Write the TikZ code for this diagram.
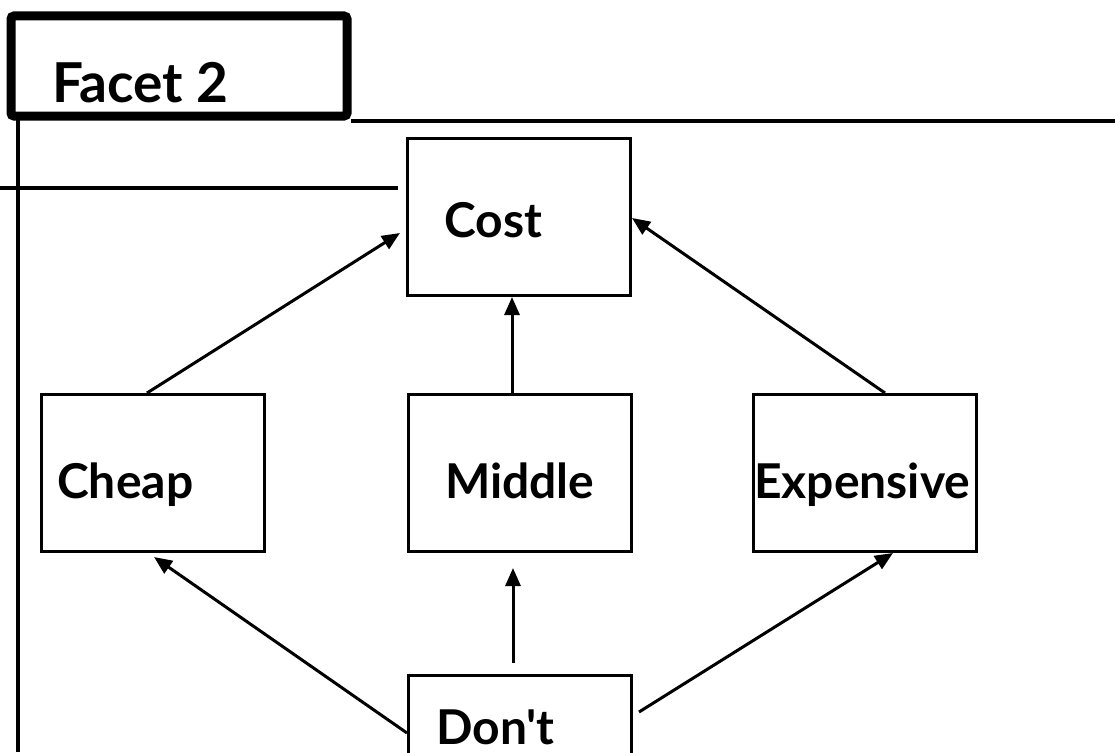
\documentclass[tikz,border=0pt]{standalone}
\usepackage{fontspec}
\newfontfamily\latofam{Lato}[BoldFont={* Bold}]
\usetikzlibrary{arrows.meta}
\begin{document}
\begin{tikzpicture}[x=1pt,y=-1pt,
  box/.style={draw,line width=3pt,minimum width=223pt,minimum height=157pt,inner sep=0pt},
  lbl/.style={anchor=base west,inner sep=0pt,font=\latofam\fontsize{48}{52}\selectfont\bfseries},
  arr/.style={line width=3pt,-{Triangle[length=18pt,width=15pt]}},
  frame/.style={line width=3.5pt}]
\useasboundingbox (0,0) rectangle (1115,752);
\clip (0,0) rectangle (1115,752);
% tab
\draw[line width=9pt,rounded corners=3pt] (11,16) rectangle (347,116);
\node[anchor=base west,inner sep=0pt,font=\latofam\fontsize{55}{60}\selectfont\bfseries] (facet) at (52,102) {Facet 2};
% frame lines
\coordinate (hr0) at (351,121);
\coordinate (hr1) at (1115,121);
\coordinate (vl0) at (18,118);
\coordinate (vl1) at (18,752);
\coordinate (hl0) at (0,188);
\coordinate (hl1) at (398,188);
\draw[frame] (hr0) -- (hr1);
\draw[frame] (vl0) -- (vl1);
\draw[frame] (hl0) -- (hl1);
% boxes
\node[box] (cost) at (519,217) {};
\node[box] (cheap) at (152.5,473) {};
\node[box] (middle) at (519.5,473) {};
\node[box] (expensive) at (865,473) {};
\node[box] (dont) at (520,754) {};
% labels
\node[lbl] (tcost) at (444,237) {Cost};
\node[lbl] (tcheap) at (57,498) {Cheap};
\node[lbl] (tmiddle) at (445,498) {Middle};
\node[lbl] (texp) at (754,498) {Expensive};
\node[lbl] (tdont) at (436,744) {Don't};
% arrows
\draw[arr] ([xshift=-5.5pt]cheap.north) -- ([xshift=-6pt,yshift=-16pt]cost.west);
\draw[arr] ([xshift=-7.5pt]middle.north) -- ([xshift=-7pt]cost.south);
\draw[arr] ([xshift=20pt]expensive.north) -- ([yshift=-1pt]cost.east);
\draw[arr] ([yshift=21pt]dont.west) -- ([xshift=1.5pt,yshift=-4pt]cheap.south);
\draw[arr] ([xshift=-7pt,yshift=11pt]dont.north) -- ([xshift=-6.5pt,yshift=-15pt]middle.south);
\draw[arr] ([xshift=6pt,yshift=42pt]dont.east) -- ([xshift=28pt]expensive.south);
\end{tikzpicture}
\end{document}
